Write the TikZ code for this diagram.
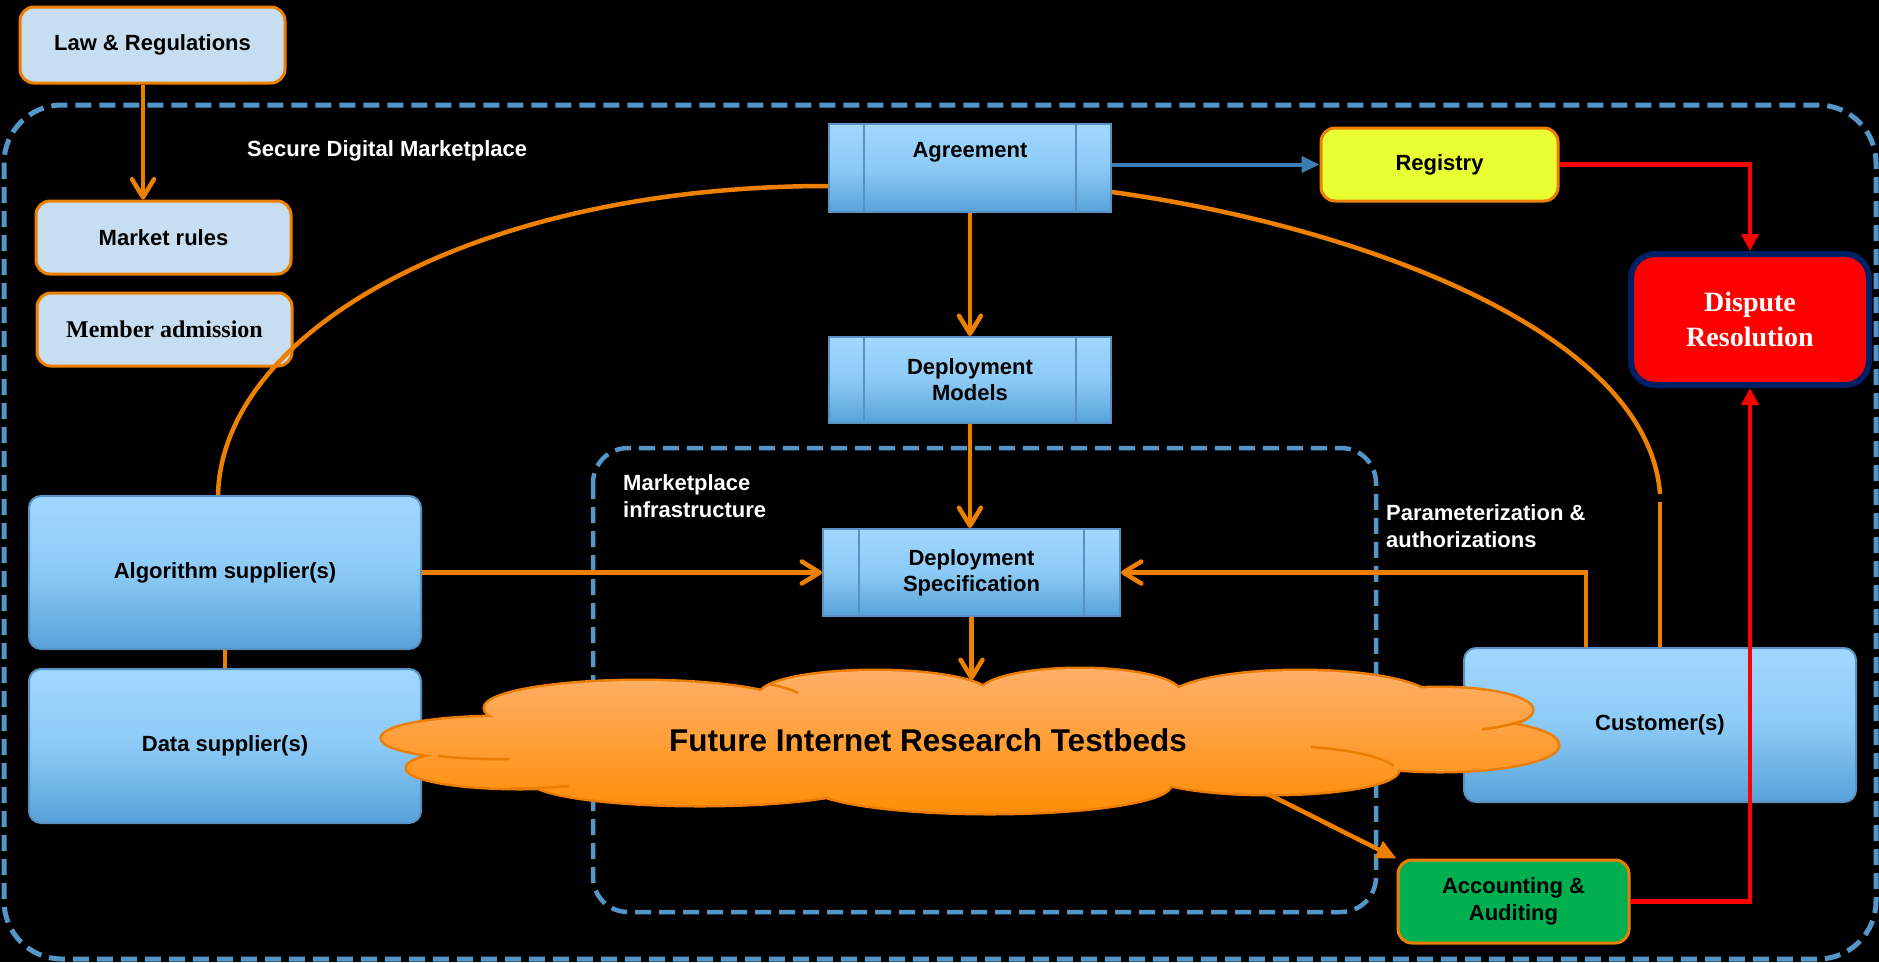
\documentclass[tikz,border=0pt]{standalone}
\usepackage{fontspec}
\setmainfont{Liberation Sans}
\newfontfamily\tnr{Liberation Serif}
\usetikzlibrary{arrows.meta,calc}
\definecolor{dashblue}{RGB}{84,150,200}
\definecolor{org}{RGB}{238,128,0}
\definecolor{cloudedge}{RGB}{235,125,5}
\definecolor{lightbox}{RGB}{198,222,240}
\definecolor{btop}{RGB}{160,216,255}
\definecolor{bmid}{RGB}{140,202,245}
\definecolor{bbot}{RGB}{88,162,218}
\definecolor{bborder}{RGB}{90,145,195}
\definecolor{regfill}{RGB}{232,255,50}
\definecolor{accfill}{RGB}{0,176,80}
\definecolor{navy}{RGB}{0,32,100}
\definecolor{linkblue}{RGB}{60,125,180}
\definecolor{ctop}{RGB}{255,178,112}
\definecolor{cbot}{RGB}{255,140,0}
\definecolor{redline}{RGB}{255,0,0}
\newcommand\myCloudPath{(500,738) ellipse (118pt and 21pt) (520,768) ellipse (113pt and 20pt) (640,708) ellipse (155pt and 27pt) (875,695) ellipse (115pt and 24pt) (1080,693) ellipse (100pt and 24pt) (1300,700) ellipse (132pt and 29pt) (1440,710) ellipse (92pt and 22pt) (1440,745) ellipse (118pt and 26pt) (1270,770) ellipse (128pt and 24pt) (990,785) ellipse (180pt and 28pt) (700,780) ellipse (170pt and 25pt) (960,740) ellipse (440pt and 48pt)}
\begin{document}
\begin{tikzpicture}[x=1pt,y=-1pt,
  lbl/.style={font=\fontsize{22pt}{26pt}\selectfont\bfseries, align=center, text=black},
  wlbl/.style={font=\fontsize{22pt}{27pt}\selectfont\bfseries, align=left, text=white, inner sep=0pt},
  rulebox/.style={draw=org, line width=3pt, fill=lightbox, rounded corners=14pt, inner sep=0pt},
  actor/.style={draw=bborder, line width=2pt, rounded corners=12pt, top color=btop, bottom color=bbot, middle color=bmid, inner sep=0pt},
  proc/.style={draw=bborder, line width=2pt, top color=btop, bottom color=bbot, middle color=bmid, inner sep=0pt},
  procline/.style={draw=bborder, line width=2pt},
  dashbox/.style={draw=dashblue, line width=5pt, dash pattern=on 16pt off 8pt},
  oline/.style={draw=org, line width=4.5pt},
  oarrow/.style={oline, -{Straight Barb[length=18pt,width=22pt,round]}},
  rarrow/.style={draw=redline, line width=4.5pt, -{Triangle[length=17pt,width=17pt]}},
  blink/.style={draw=linkblue, line width=4pt, -{Triangle[length=18pt,width=16pt]}}
]
\useasboundingbox (0,0) rectangle (1879,962);
\fill[black] (0,0) rectangle (1879,962);

% dashed regions
\draw[dashbox, rounded corners=58pt] (4,105) rectangle (1876,959);
\draw[dashbox, line width=4.5pt, rounded corners=35pt] (593,448) rectangle (1376,912);

% region labels
\node[wlbl, anchor=base west] (sdm) at (247,156) {Secure Digital Marketplace};
\node[wlbl, anchor=north west] (mi) at (623,474) {Marketplace\\infrastructure};
\node[wlbl, anchor=north west] (pa) at (1386,504) {Parameterization \&\\authorizations};

% rule boxes
\node[rulebox, lbl, minimum width=265pt, minimum height=76pt] (law) at (152.5,45) {Law \& Regulations};
\node[rulebox, lbl, minimum width=255pt, minimum height=73pt] (mkt) at (163.5,237.5) {Market rules};
\node[rulebox, minimum width=255pt, minimum height=73pt, font=\tnr\fontsize{24pt}{28pt}\selectfont\bfseries] (mem) at (164.5,329.5) {Member admission};

% process boxes
\node[proc, lbl, minimum width=282pt, minimum height=88pt, text height=16pt, text depth=38pt] (agr) at (970,168) {Agreement};
\node[proc, lbl, minimum width=282pt, minimum height=86pt] (dm) at (970,380) {Deployment\\Models};
\node[proc, lbl, minimum width=297pt, minimum height=87pt] (spec) at (971.5,572.5) {Deployment\\Specification};
\foreach \n/\d in {agr/36pt, dm/36pt, spec/37pt}{
  \draw[procline] ([xshift=\d]\n.north west) -- ([xshift=\d]\n.south west);
  \draw[procline] ([xshift=-\d]\n.north east) -- ([xshift=-\d]\n.south east);
}

% actors
\node[actor, lbl, minimum width=392pt, minimum height=153pt] (alg) at (225,572.5) {Algorithm supplier(s)};
\node[actor, lbl, minimum width=392pt, minimum height=154pt] (data) at (225,746) {Data supplier(s)};
\node[actor, lbl, minimum width=392pt, minimum height=154pt] (cust) at (1660,725) {Customer(s)};

% registry, dispute, accounting
\node[draw=org, line width=3pt, fill=regfill, rounded corners=14pt, lbl, minimum width=237pt, minimum height=73pt] (reg) at (1439.5,164.5) {Registry};
\node[draw=navy, line width=6pt, fill=redline, rounded corners=24pt, outer sep=3pt, minimum width=238pt, minimum height=131pt, align=center, text=white, font=\tnr\fontsize{28pt}{35pt}\selectfont\bfseries] (disp) at (1750,319.5) {Dispute\\Resolution};
\node[draw=org, line width=3pt, fill=accfill, rounded corners=14pt, lbl, minimum width=231pt, minimum height=83pt, font=\fontsize{22pt}{27pt}\selectfont\bfseries] (acc) at (1513.5,901.5) {Accounting \&\\Auditing};

% cloud
\draw[draw=cloudedge, line width=5pt] \myCloudPath;
\begin{scope}
  \clip \myCloudPath;
  \shade[top color=ctop, bottom color=cbot] (370,660) rectangle (1570,820);
\end{scope}
\begin{scope}[draw=cloudedge, line width=2.5pt]
  \draw (438,756) .. controls (462,758.5) and (486,759.5) .. (509,759);
  \draw (509,788) .. controls (530,788.5) and (550,787.8) .. (569,786);
  \draw (768,684) .. controls (780,686) and (790,689) .. (798,693);
  \draw (1482,729.5) .. controls (1500,727) and (1515,724) .. (1527,719);
  \draw (1311,747) .. controls (1350,750) and (1380,756) .. (1394,766);
\end{scope}
\node[font=\fontsize{31.5pt}{36pt}\selectfont\bfseries, inner sep=0pt] (fir) at (928,740) {Future Internet Research Testbeds};
\coordinate (cloudtop) at (971,680);
\coordinate (cloudacc) at (1268,794);

% connectors
\coordinate (lawout) at ([xshift=-9.5pt]law.south);
\draw[oarrow] (lawout) -- (lawout |- mkt.north);
\draw[oarrow] (agr.south) -- (dm.north);
\draw[oarrow] (dm.south) -- (dm.south |- spec.north);
\draw[oarrow] (alg.east) -- (spec.west);
\coordinate (custout) at ([xshift=123pt]cust.north west);
\draw[oarrow] (custout) |- (spec.east);
\draw[oarrow] (spec.south) -- (spec.south |- cloudtop);
\draw[oline] (alg.south) -- (data.north);
\draw[oline, -{Triangle[length=20pt,width=18pt]}] (cloudacc) -- (acc.north west);

\coordinate (c1s) at ([xshift=-7pt]alg.north);
\coordinate (c1e) at ([yshift=-18pt]agr.west);
\draw[oline] (c1s) .. controls +(4,-166) and +(-349,0) .. (c1e);
\coordinate (c2s) at ([yshift=-24pt]agr.east);
\coordinate (c2e) at ([yshift=153pt]cust.north);
\coordinate (c2g) at ([yshift=145pt]cust.north);
\draw[oline] (c2s) .. controls +(239,33) and +(-12,-165) .. (c2e);
\draw[oline] (c2g) -- (cust.north);

\draw[blink] (agr.east |- reg.west) -- (reg.west);
\draw[rarrow] (reg.east) -| (disp.north);
\draw[rarrow] (acc.east) -| (disp.south);
\end{tikzpicture}
\end{document}
